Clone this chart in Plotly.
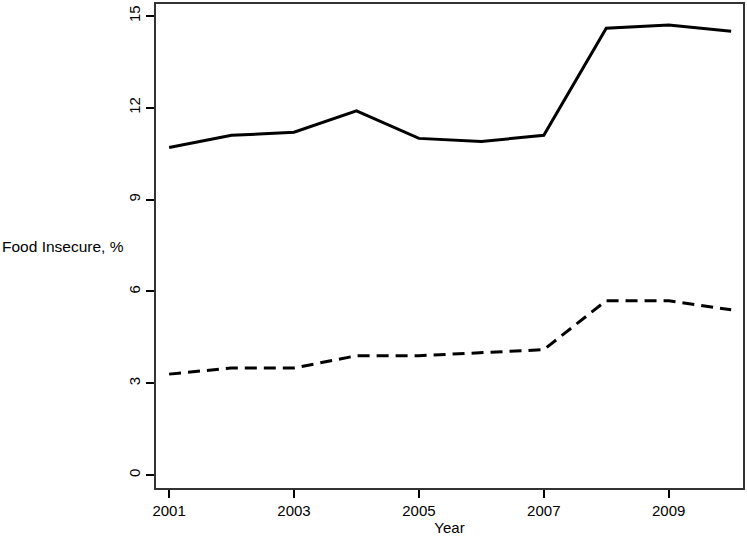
import plotly.graph_objects as go

years = [2001, 2002, 2003, 2004, 2005, 2006, 2007, 2008, 2009, 2010]
food_insecure = [10.7, 11.1, 11.2, 11.9, 11.0, 10.9, 11.1, 14.6, 14.7, 14.5]
very_low_security = [3.3, 3.5, 3.5, 3.9, 3.9, 4.0, 4.1, 5.7, 5.7, 5.4]

x_ticks = [2001, 2003, 2005, 2007, 2009]
y_ticks = [0, 3, 6, 9, 12, 15]

fig = go.Figure()
fig.add_trace(go.Scatter(x=years, y=food_insecure, mode='lines',
                         line=dict(color='black', width=3)))
fig.add_trace(go.Scatter(x=years, y=very_low_security, mode='lines',
                         line=dict(color='black', width=3, dash='12px,7px')))

axis_font = dict(family='Liberation Sans, Arial, sans-serif', size=15, color='black')

fig.update_layout(
    width=747, height=539,
    margin=dict(l=156, r=2, t=2, b=51),
    plot_bgcolor='white',
    paper_bgcolor='white',
    showlegend=False,
    font=axis_font,
)

fig.update_xaxes(
    range=[2000.79, 2010.19],
    tickvals=x_ticks,
    ticks='outside', ticklen=8, tickwidth=1.5, tickcolor='black',
    showline=True, linecolor='#333', linewidth=2, mirror=True,
    showgrid=False, zeroline=False,
    title=dict(text='Year', standoff=2, font=axis_font),
)
fig.update_yaxes(
    range=[-0.42, 15.39],
    tickvals=y_ticks,
    tickangle=-90,
    ticks='outside', ticklen=8, tickwidth=1.5, tickcolor='black',
    showline=True, linecolor='#333', linewidth=2, mirror=True,
    showgrid=False, zeroline=False,
)

fig.add_annotation(text='Food Insecure, %', xref='paper', yref='paper',
                   x=-0.265, y=0.5, xanchor='left', yanchor='middle',
                   showarrow=False, font=dict(size=15.5))

# the page body has an 8px margin by default; drop it so the chart sits at 0,0
fig.write_html("out.html", config={'displayModeBar': False},
               post_script="document.body.style.margin='0';")
